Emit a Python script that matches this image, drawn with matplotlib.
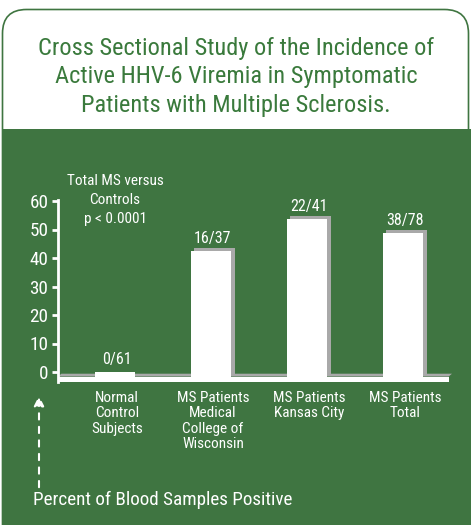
import numpy as np
import matplotlib.pyplot as plt
from matplotlib.patches import FancyBboxPatch, Rectangle, Polygon
from matplotlib import font_manager

# data
categories = ['Normal\nControl\nSubjects', 'MS Patients\nMedical\nCollege of\nWisconsin',
              'MS Patients\nKansas City', 'MS Patients\nTotal']
values = [0, 42.5, 53.7, 48.7]
counts = ['0/61', '16/37', '22/41', '38/78']
yticks = [0, 10, 20, 30, 40, 50, 60]

green = '#3f7541'
gray = '#a9a9a9'

names = {f.name for f in font_manager.fontManager.ttflist}
font = 'Liberation Sans'
for cand in ['Liberation Sans Narrow', 'Roboto Condensed', 'Open Sans Condensed']:
    if cand in names:
        font = cand
        break
plt.rcParams['font.family'] = [font, 'DejaVu Sans']
narrow = font != 'Liberation Sans'
k = 1.1 if narrow else 1.0

W, H = 471, 525
fig = plt.figure(figsize=(W / 100, H / 100), dpi=100)

# background drawing in pixel coords
bg = fig.add_axes([0, 0, 1, 1])
bg.set_xlim(0, W)
bg.set_ylim(H, 0)
bg.axis('off')
bg.add_patch(FancyBboxPatch((2.5, 9.5), 466, 560, boxstyle='round,pad=0,rounding_size=24',
                            facecolor='white', edgecolor=green, lw=1.2))
bg.add_patch(Rectangle((2, 129), 469, 400, facecolor=green, edgecolor='none'))
bg.text(236, 77, 'Cross Sectional Study of the Incidence of\nActive HHV-6 Viremia in Symptomatic\nPatients with Multiple Sclerosis.',
        ha='center', va='center', color='#3a7a3c', fontsize=16 * k, linespacing=1.32)
bg.annotate('', xy=(39, 393), xytext=(39, 490),
            arrowprops=dict(arrowstyle='-|>,head_width=0.3,head_length=0.6', color='white',
                            lw=1.5, linestyle=(0, (3, 3.5))))
bg.text(33, 500, 'Percent of Blood Samples Positive', ha='left', va='center',
        color='white', fontsize=12.5 * k)

# chart axes: x centre pixel = 115 + 96*i, y pixel = 372 - 2.85*v
x0_pix, x1_pix = 58, 452
y0_pix, y1_pix = 382, 198
ax = fig.add_axes([x0_pix / W, 1 - y0_pix / H, (x1_pix - x0_pix) / W, (y0_pix - y1_pix) / H])
ax.set_xlim((x0_pix - 115) / 96, (x1_pix - 115) / 96)
ax.set_ylim((372 - y0_pix) / 2.85, (372 - y1_pix) / 2.85)
ax.patch.set_alpha(0)
for s in ['top', 'right', 'bottom']:
    ax.spines[s].set_visible(False)
ax.spines['left'].set_color('white')
ax.spines['left'].set_linewidth(2)
ax.spines['left'].set_bounds((372 - 382) / 2.85, 60.4)
ax.set_xticks([])
ax.set_yticks(yticks)
ax.tick_params(axis='y', colors='white', length=4, width=2, labelsize=12.5 * k, pad=3)

xs = np.arange(len(values))
vals = np.array(values)
base = -1.6
dx, dy = 0.035, 1.0
xl, xr = ax.get_xlim()

# floor
ax.add_patch(Polygon([[xl, base], [xr - dx, base], [xr, base + dy], [xl + dx, base + dy]],
                     closed=True, facecolor=gray, edgecolor='none', zorder=1))
ax.add_patch(Rectangle((xl, ax.get_ylim()[0]), xr - dx - xl, base - ax.get_ylim()[0],
                       facecolor='white', edgecolor='none', zorder=1))

# bars with shaded 3d edge (no raised edge for empty bar)
bw = 0.42
shadow = np.where(vals > 0, vals - base, 0)
ax.bar(xs + dx, shadow, bottom=base + dy, width=bw, color=gray, zorder=2)
ax.bar(xs, np.maximum(vals - base, dy), bottom=base, width=bw, color='white', zorder=3)

for x, v, c in zip(xs, values, counts):
    ax.text(x + 0.02, v + 1.8, c, ha='center', va='bottom', color='white', fontsize=10.5 * k)

for x, c in zip(xs, categories):
    ax.text(x + 0.02, -6.5, c, ha='center', va='top', color='white', fontsize=10 * k,
            linespacing=1.15, clip_on=False)

ax.text(0, 60.2, 'Total MS versus\nControls\np < 0.0001', ha='center', va='center',
        color='white', fontsize=10 * k, linespacing=1.45)

fig.savefig('out.png', dpi=100, facecolor='white')
